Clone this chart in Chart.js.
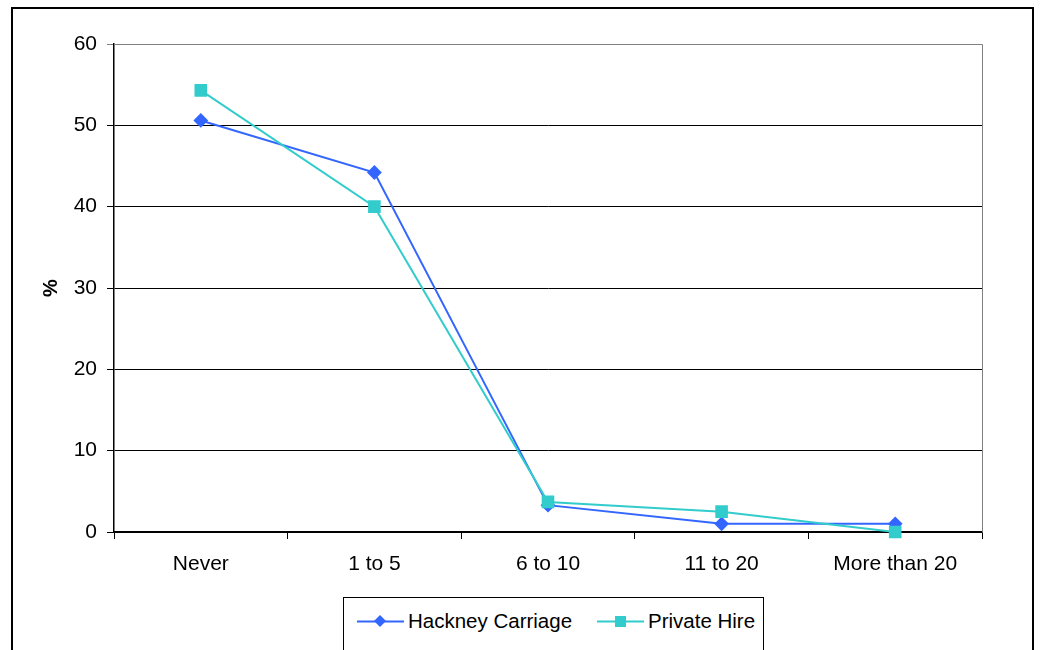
<!DOCTYPE html>
<html>
<head>
<meta charset="utf-8">
<script src="https://cdn.jsdelivr.net/npm/chart.js@4/dist/chart.umd.min.js"></script>
<style>
  body { margin: 0; background: #fff; font-family: "Liberation Sans", Arial, sans-serif; }
  #wrap { position: relative; width: 1040px; height: 650px; overflow: hidden; }
  #frame { position: absolute; left: 11px; top: 7px; width: 1023px; height: 700px; border: 2px solid #000; box-sizing: border-box; }
  canvas { position: absolute; left: 0; top: 0; }
  #legend { position: absolute; left: 343px; top: 597px; width: 421px; height: 70px; border: 1px solid #000; box-sizing: border-box; background: #fff; }
  .item { position: absolute; top: 11px; display: flex; align-items: center; font-size: 20.5px; color: #000; }
  .item svg { margin-right: 4px; }
</style>
</head>
<body>
<div id="wrap">
  <div id="frame"></div>
  <canvas id="chart" width="1040" height="650"></canvas>
  <div id="legend"></div>
</div>
<script>
// categories and series
const categories = ['Never', '1 to 5', '6 to 10', '11 to 20', 'More than 20'];
const hackney = [50.6, 44.2, 3.3, 1.0, 1.0];
const privateHire = [54.3, 40.0, 3.7, 2.5, 0.0];
const yTicks = [0, 10, 20, 30, 40, 50, 60];

const blue = '#3366FF';
const teal = '#33CCCC';

// gray border on top / right of plot area, like the Excel frame
const plotFrame = {
  id: 'plotFrame',
  beforeDatasetsDraw(chart) {
    const { ctx, chartArea: a } = chart;
    ctx.save();
    ctx.strokeStyle = '#808080';
    ctx.lineWidth = 1;
    ctx.beginPath();
    ctx.moveTo(a.left, a.top + 0.5);
    ctx.lineTo(a.right + 0.5, a.top + 0.5);
    ctx.lineTo(a.right + 0.5, a.bottom);
    ctx.stroke();
    ctx.restore();
  }
};

const tickFont = { size: 21, family: 'Liberation Sans' };

const chart = new Chart(document.getElementById('chart'), {
  type: 'line',
  data: {
    labels: categories,
    datasets: [
      {
        label: 'Private Hire',
        data: privateHire,
        borderColor: teal,
        backgroundColor: teal,
        borderWidth: 2,
        pointStyle: 'rect',
        pointRadius: 7.5,
        pointHoverRadius: 7.5,
        tension: 0,
        clip: false
      },
      {
        label: 'Hackney Carriage',
        data: hackney,
        borderColor: blue,
        backgroundColor: blue,
        borderWidth: 2,
        pointStyle: 'rectRot',
        pointRadius: 6,
        pointHoverRadius: 6,
        tension: 0,
        clip: false
      }
    ]
  },
  options: {
    responsive: false,
    animation: false,
    layout: { padding: { left: 39, top: 44, right: 58, bottom: 0 } },
    plugins: {
      legend: { display: false },
      tooltip: { enabled: false }
    },
    scales: {
      x: {
        offset: true,
        afterFit: s => { s.height = 118; },
        grid: {
          offset: true,
          drawOnChartArea: false,
          drawTicks: true,
          tickLength: 7,
          color: '#000'
        },
        border: { color: '#000', width: 1.5 },
        ticks: { color: '#000', font: tickFont, padding: 13, maxRotation: 0 }
      },
      y: {
        min: 0,
        max: 60,
        afterFit: s => { s.width = 75; },
        afterBuildTicks: s => { s.ticks = yTicks.map(v => ({ value: v })); },
        grid: {
          color: c => (c.tick && c.tick.value === 60 ? '#808080' : '#000'),
          lineWidth: 1,
          tickLength: 7,
          drawTicks: true
        },
        border: { color: '#000', width: 1.5 },
        ticks: { color: '#000', font: tickFont, padding: 10 },
        title: {
          display: true,
          text: '%',
          color: '#000',
          font: { size: 20, weight: 'bold', family: 'Liberation Sans' },
          padding: 0
        }
      }
    }
  },
  plugins: [plotFrame]
});

// legend built from the datasets, drawn in Hackney, Private Hire order
const legendEl = document.getElementById('legend');
const legendItems = [
  { label: 'Hackney Carriage', color: blue, shape: 'diamond', left: 13 },
  { label: 'Private Hire', color: teal, shape: 'square', left: 253 }
];
legendItems.forEach(it => {
  const marker = it.shape === 'diamond'
    ? `<polygon points="23,6 29,12 23,18 17,12" fill="${it.color}"/>`
    : `<rect x="18" y="7" width="11" height="11" fill="${it.color}"/>`;
  const div = document.createElement('div');
  div.className = 'item';
  div.style.left = it.left + 'px';
  div.innerHTML = `<svg width="47" height="24"><line x1="0" y1="12.5" x2="47" y2="12.5" stroke="${it.color}" stroke-width="2"/>${marker}</svg><span>${it.label}</span>`;
  legendEl.appendChild(div);
});
</script>
</body>
</html>
